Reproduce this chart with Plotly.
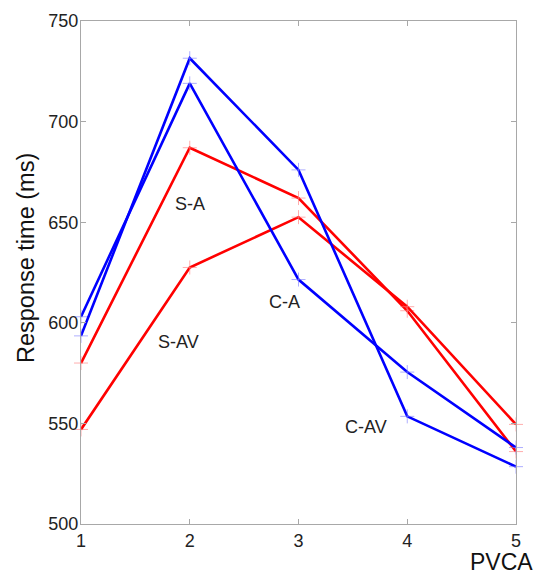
import plotly.graph_objects as go

pvca = [1, 2, 3, 4, 5]

# Red series
s_a = [580, 687, 662, 606, 536]
s_av = [547, 627.5, 652.5, 608, 549.5]
# Blue series
c_a = [603, 719, 621.5, 575.5, 538]
c_av = [593.5, 731.5, 676, 553.5, 528.5]

series = [
    ("S-A", s_a, "#ff0000", "rgba(255,120,120,0.6)"),
    ("S-AV", s_av, "#ff0000", "rgba(255,120,120,0.6)"),
    ("C-A", c_a, "#0000ff", "rgba(120,120,255,0.6)"),
    ("C-AV", c_av, "#0000ff", "rgba(120,120,255,0.6)"),
]

label_text = ["S-A", "S-AV", "C-A", "C-AV"]
label_x = [2.0, 1.9, 2.87, 3.62]
label_y = [659, 590.5, 610.5, 548]

FONT = "Liberation Sans, Arial"

fig = go.Figure()
for name, vals, col, mcol in series:
    fig.add_trace(go.Scatter(
        x=pvca, y=vals, mode="lines+markers", name=name,
        line=dict(color=col, width=2.6),
        marker=dict(symbol="cross-thin", size=10, line=dict(color=mcol, width=1), color=mcol),
        cliponaxis=False,
    ))

for t, x, y in zip(label_text, label_x, label_y):
    fig.add_annotation(x=x, y=y, text=t, showarrow=False,
                       font=dict(family=FONT, size=18, color="#222"))

fig.add_annotation(xref="paper", yref="paper", x=1.044, y=-0.046, xanchor="right", yanchor="top",
                   text="PVCA", showarrow=False,
                   font=dict(family=FONT, size=23, color="#111"))

fig.add_annotation(xref="paper", yref="paper", x=-0.125, y=0.528, xanchor="center", yanchor="middle",
                   text="Response time (ms)", textangle=-90, showarrow=False,
                   font=dict(family=FONT, size=23.5, color="#111"))

axis_common = dict(
    showgrid=False, zeroline=False, showline=True, linecolor="#a8a8a8", linewidth=1,
    mirror="ticks", ticks="inside", ticklen=5, tickcolor="#a8a8a8",
    tickfont=dict(family=FONT, size=18, color="#222"),
)

fig.update_xaxes(range=[1, 5], tickvals=[1, 2, 3, 4, 5], **axis_common)
fig.update_yaxes(range=[500, 750], tickvals=[500, 550, 600, 650, 700, 750],
                 ticklabelstandoff=-2, **axis_common)

fig.update_layout(
    width=544, height=574,
    margin=dict(l=73, r=36, t=13, b=58, autoexpand=False),
    paper_bgcolor="white", plot_bgcolor="white",
    showlegend=False,
)

fig.write_html("out.html")
